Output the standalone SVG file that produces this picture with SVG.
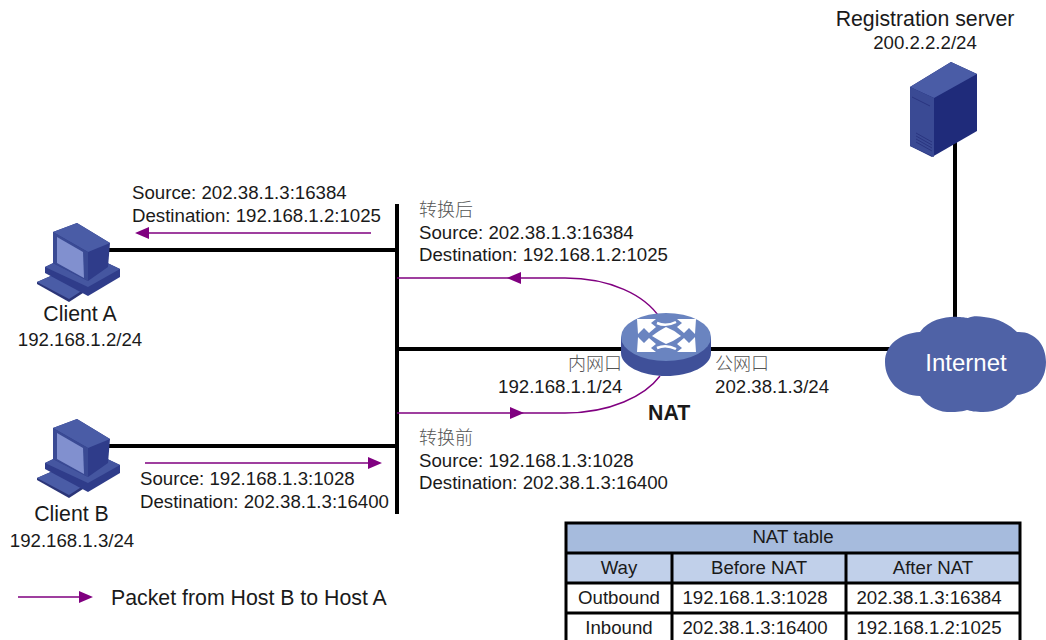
<svg xmlns="http://www.w3.org/2000/svg" width="1046" height="640" viewBox="0 0 1046 640">
<style>
text{font-family:"Liberation Sans","Noto Sans CJK SC",sans-serif;font-size:18.67px;fill:#1a1a1a}
.m{text-anchor:middle}
.lg{font-size:21.3px}
.cn{font-family:"Noto Sans CJK SC","Liberation Serif",sans-serif;font-size:18px;font-weight:300;fill:#555}
.l{stroke:#000;stroke-width:4;fill:none}
.p{stroke:#800080;stroke-width:1.4;fill:none}
.h{fill:#800080}
.b{stroke:#000;stroke-width:3;fill:none}
</style>
<defs>
<g id="pc">
<path d="M37 282L53 275L83 290V293L69 302L37 284Z" fill="#2b3578"/>
<path d="M37 282L53 275L83 290L69 299Z" fill="#4a5ca6"/>
<path d="M45 267L80 250L120 269V277L88 296L45 273Z" fill="#2f3c8a"/>
<path d="M45 267L80 250L120 269L88 287Z" fill="#4556a0"/>
<path d="M53 232L77 223L110 243L108 267L88 281L53 263Z" fill="#2f3c8a"/>
<path d="M53 232L77 223L110 243L88 252Z" fill="#4a5ca6"/>
<path d="M53 232L88 252V281L53 263Z" fill="#3a4a94"/>
<path d="M57 237L83 252L84 278L57 263Z" fill="#8190cf"/>
</g>
<path id="ra" d="M637 319H656L651 323L656 327L649 333L644 328L638 334Z" fill="#fff"/>
</defs>
<g id="connectors">
<path class="l" d="M397 204V514M108 250H397M108 446H397M397 349H890M955 140V320"/>
<path class="p" d="M397 278H565C610 278 645 295 660 318"/>
<path class="p" d="M397 413H565C610 413 645 396 660 376"/>
<path class="p" d="M145 233H371M145 463H370M18 597H82"/>
<path class="h" d="M135 233L149 227V239ZM382 463L368 457V469ZM93 597L79 591V603ZM507 278L521 272V284ZM524 413L510 407V419Z"/>
</g>
<g id="client-a"><use href="#pc"/><text class="m lg" x="80" y="321">Client A</text><text class="m" x="80" y="346">192.168.1.2/24</text></g>
<g id="client-b"><use href="#pc" y="196"/><text class="m lg" x="71.5" y="521">Client B</text><text class="m" x="72" y="547">192.168.1.3/24</text></g>
<g id="server">
<path d="M910 87L951 62L977 74V131L932 157L910 146Z" fill="#1f2b7a"/>
<path d="M910 87L951 62L977 74L934 98Z" fill="#4a5ca6"/>
<path d="M910 87L934 98V157L910 146Z" fill="#3a4a94"/>
<path d="M912 97L930 106M916 133L932 142M916 136L932 145M916 139L932 148M916 142L932 151" stroke="#2a3580" stroke-width="1" fill="none"/>
<text class="m lg" x="925" y="26">Registration server</text><text class="m" x="925" y="49">200.2.2.2/24</text>
</g>
<g id="nat">
<path d="M621 337V353C621 366 642 376 666 376C690 376 711 366 711 353V337Z" fill="#3f5099"/>
<ellipse cx="666" cy="337" rx="45" ry="24" fill="#6a84c0"/>
<use href="#ra"/>
<use href="#ra" transform="matrix(-1 0 0 1 1333 0)"/>
<use href="#ra" transform="matrix(1 0 0 -1 0 671)"/>
<use href="#ra" transform="matrix(-1 0 0 -1 1333 671)"/>
<path d="M652 336Q660 330 666 327Q674 330 681 336Q674 341 666 344Q660 341 652 336Z" fill="#fff"/>
<path d="M657 323Q666 327 676 322M657 348Q666 344 676 349" stroke="#fff" stroke-width="2.5" fill="none"/>
<text x="648" y="420" style="font-weight:bold;font-size:21.3px">NAT</text>
<text class="cn" x="568" y="370">内网口</text><text x="498" y="393">192.168.1.1/24</text>
<text class="cn" x="715" y="370">公网口</text><text x="715" y="393">202.38.1.3/24</text>
</g>
<g id="internet">
<path d="M920 332C930 318 950 316 958 317C964 317 966 318 968 318C972 316 978 316 984 317C998 318 1010 325 1017 332C1035 331 1046 345 1046 362C1046 382 1032 394 1017 395C1010 406 996 412 983 412C976 412 970 411 967 410C960 412 955 412 947 412C935 411 926 405 920 396C900 396 885 381 885 362C885 345 900 333 920 332Z" fill="#4f62a6"/>
<text class="m" x="966" y="371" style="fill:#fff;font-size:24px">Internet</text>
</g>
<g id="labels">
<text x="132" y="199">Source: 202.38.1.3:16384</text><text x="132" y="222">Destination: 192.168.1.2:1025</text>
<text class="cn" x="419" y="216">转换后</text><text x="419" y="239">Source: 202.38.1.3:16384</text><text x="419" y="261">Destination: 192.168.1.2:1025</text>
<text x="140" y="485">Source: 192.168.1.3:1028</text><text x="140" y="508">Destination: 202.38.1.3:16400</text>
<text class="cn" x="419" y="444">转换前</text><text x="419" y="467">Source: 192.168.1.3:1028</text><text x="419" y="489">Destination: 202.38.1.3:16400</text>
<text class="lg" x="111" y="605">Packet from Host B to Host A</text>
</g>
<g id="nat-table">
<rect x="566" y="523" width="454" height="30" fill="#a6bbdd"/>
<rect x="566" y="553" width="454" height="30" fill="#c1d0ea"/>
<path class="b" d="M566 640V523H1020V640M566 553H1020M566 583H1020M566 613H1020M672 553V640M846 553V640"/>
<text class="m" x="793" y="543">NAT table</text>
<text class="m" x="619" y="574">Way</text><text class="m" x="759" y="574">Before NAT</text><text class="m" x="933" y="574">After NAT</text>
<text class="m" x="619" y="604">Outbound</text><text class="m" x="755" y="604">192.168.1.3:1028</text><text class="m" x="929" y="604">202.38.1.3:16384</text>
<text class="m" x="619" y="634">Inbound</text><text class="m" x="755" y="634">202.38.1.3:16400</text><text class="m" x="929" y="634">192.168.1.2:1025</text>
</g>
</svg>
